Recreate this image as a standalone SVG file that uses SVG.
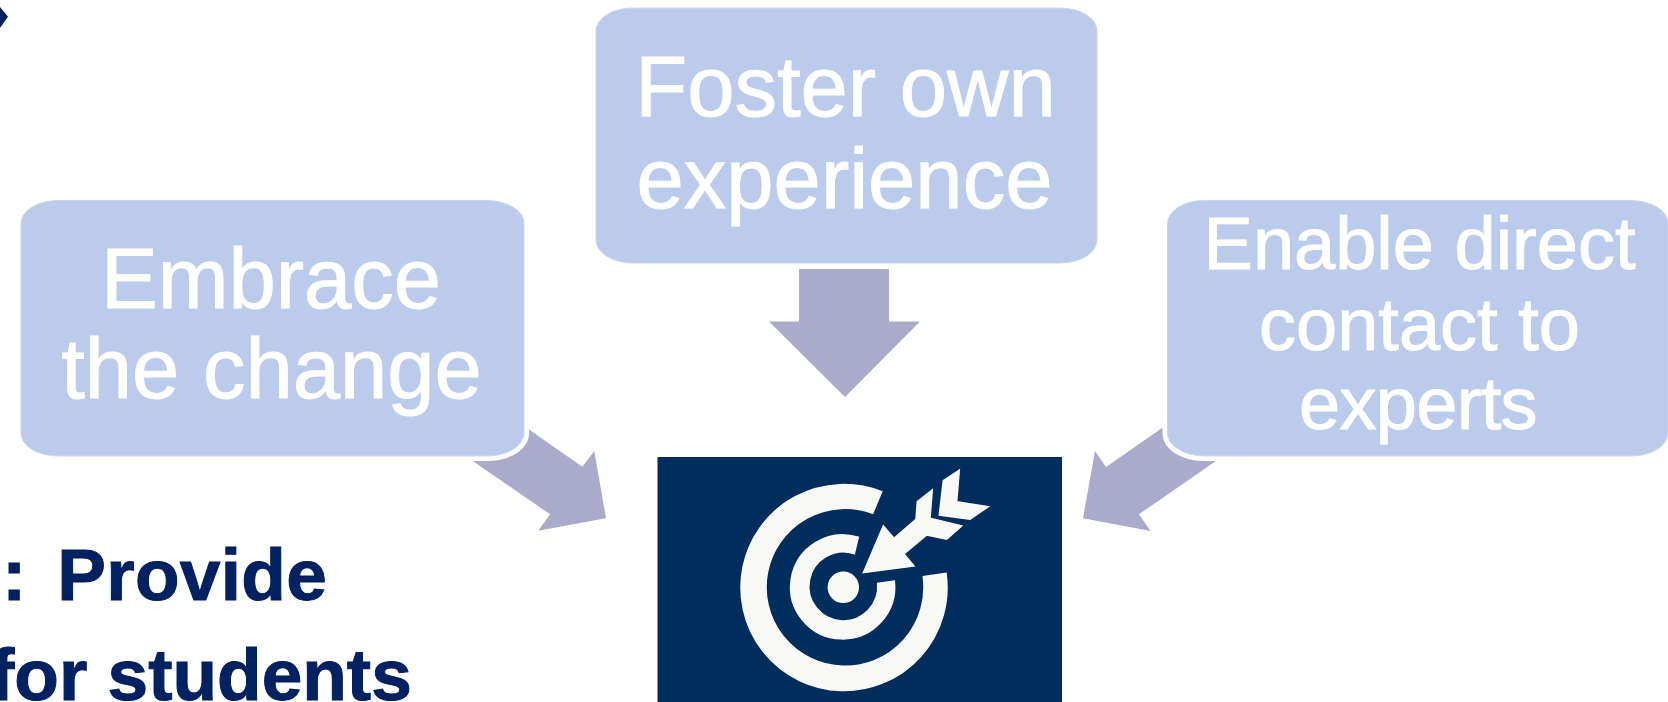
<svg xmlns="http://www.w3.org/2000/svg" width="1668" height="702" viewBox="0 0 1668 702">
<style>
.box{fill:#BBCBEC;stroke:#C8D5F0;stroke-width:1}
.halo{fill:#FFFFFF}
.arrow{fill:#AAABCB}
.lbl{font-family:"Liberation Sans",Arial,sans-serif;fill:#FFFFFF;stroke:#FFFFFF;stroke-width:1;text-anchor:middle;filter:url(#softer)}
.l84{font-size:85px}
.l73{font-size:74px}
.head{font-family:"Liberation Sans",Arial,sans-serif;font-weight:bold;font-size:73px;fill:#002060;stroke:#002060;stroke-width:1;filter:url(#softer)}
.ico{fill:#F8F9F7;stroke:#F8F9F7;stroke-width:1.5}
</style>
<defs>
<filter id="soft" x="-5%" y="-5%" width="110%" height="110%"><feGaussianBlur stdDeviation="0.7"/></filter>
<filter id="softer" x="-5%" y="-5%" width="110%" height="110%"><feGaussianBlur stdDeviation="0.45"/></filter>
</defs>
<rect width="1668" height="702" fill="#FFFFFF"/>
<polygon id="bullet" points="0,7 8,16.7 0,28" fill="#002060"/>
<g id="connectors">
<polygon class="arrow" points="799,269 889,269 889,321.4 920,321.4 845,397 769,321.4 799,321.4"/>
<polygon class="arrow" points="528.3,429 582.3,466.7 594.3,451 606,518.3 538.3,530.7 550,514.3 472.7,461"/>
<polygon class="arrow" points="1162,428 1106,467 1095,451 1083,518.3 1150.5,531 1139,514.3 1216,461"/>
</g>
<g id="node-embrace">
<rect class="halo" x="16" y="196" width="513" height="265" rx="41" ry="27"/>
<rect class="box" x="21" y="200.5" width="503" height="255.5" rx="37" ry="23"/>
<text class="lbl l84" x="271" y="307.5">Embrace</text>
<text class="lbl l84" x="271.5" y="398">the change</text>
</g>
<g id="node-foster">
<rect class="box" x="596" y="8" width="501" height="255" rx="37" ry="23"/>
<text class="lbl l84" x="845.5" y="115.5">Foster own</text>
<text class="lbl l84" x="844.5" y="207.5">experience</text>
</g>
<g id="node-enable">
<rect class="halo" x="1162.5" y="196" width="520" height="265" rx="41" ry="27"/>
<rect class="box" x="1167.5" y="200.5" width="500.5" height="255.5" rx="37" ry="23"/>
<text class="lbl l73" x="1419.5" y="269">Enable direct</text>
<text class="lbl l73" x="1419.5" y="350">contact to</text>
<text class="lbl l73" x="1418" y="429" style="letter-spacing:-0.7px">experts</text>
</g>
<g id="node-target">
<rect x="657.5" y="457" width="404.5" height="245" fill="#002D5C"/>
<g filter="url(#soft)">
<path class="ico" d="M881.7,491.7 A103,103 0 1 0 946,573.3 L923.3,576.7 A79,79 0 1 1 872.7,513.3 Z"/>
<path class="ico" d="M858.3,537.3 A52,52 0 1 0 894.3,581 L877.7,583.3 A34.5,34.5 0 1 1 854.3,553.7 Z"/>
<circle class="ico" cx="843.3" cy="587.3" r="15"/>
<polygon class="ico" points="863.3,572.7 883.3,526 894,538.3 916,519.3 917.3,501.7 932.3,490 930,518.3 961.7,526 946.7,539.3 926.7,535 904,554 914,566"/>
<polygon class="ico" points="959.3,470 943.3,480.7 939.3,515 970,519.3 988.3,506.7 956.7,501.7"/>
</g>
</g>
<g id="caption">
<text class="head" y="600"><tspan x="2">:</tspan><tspan x="57.2" style="letter-spacing:0.3px">Provide</tspan></text>
<text class="head" x="-10" y="700">for students</text>
</g>
</svg>
